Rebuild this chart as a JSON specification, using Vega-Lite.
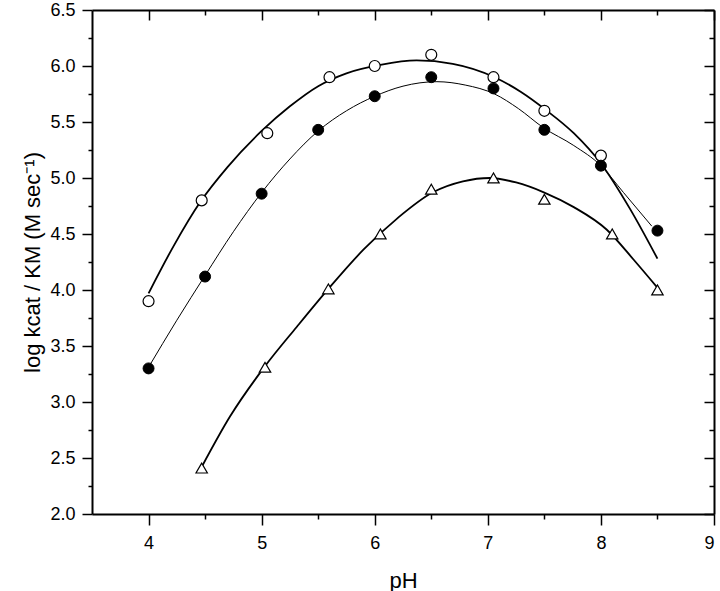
{
  "$schema": "https://vega.github.io/schema/vega-lite/v6.json",
  "autosize": "none",
  "width": 622,
  "height": 504,
  "padding": {"left": 92, "top": 10, "right": 6, "bottom": 77},
  "background": "white",
  "config": {
    "view": {"stroke": null},
    "font": "Liberation Sans",
    "axis": {"grid": false, "domainColor": "black", "domainWidth": 2, "tickColor": "black", "tickWidth": 1.5, "labelColor": "black", "titleColor": "black", "labelFont": "Liberation Sans", "titleFont": "Liberation Sans", "labelFontSize": 18, "titleFontSize": 22, "titleFontWeight": "normal"}
  },
  "datasets": {
    "pts": [
      {"series": "open", "pH": 4.0, "logk": 3.9},
      {"series": "open", "pH": 4.47, "logk": 4.8},
      {"series": "open", "pH": 5.05, "logk": 5.4},
      {"series": "open", "pH": 5.6, "logk": 5.9},
      {"series": "open", "pH": 6.0, "logk": 6.0},
      {"series": "open", "pH": 6.5, "logk": 6.1},
      {"series": "open", "pH": 7.05, "logk": 5.9},
      {"series": "open", "pH": 7.5, "logk": 5.6},
      {"series": "open", "pH": 8.0, "logk": 5.2},
      {"series": "filled", "pH": 4.0, "logk": 3.3},
      {"series": "filled", "pH": 4.5, "logk": 4.12},
      {"series": "filled", "pH": 5.0, "logk": 4.86},
      {"series": "filled", "pH": 5.5, "logk": 5.43},
      {"series": "filled", "pH": 6.0, "logk": 5.73},
      {"series": "filled", "pH": 6.5, "logk": 5.9},
      {"series": "filled", "pH": 7.05, "logk": 5.8},
      {"series": "filled", "pH": 7.5, "logk": 5.43},
      {"series": "filled", "pH": 8.0, "logk": 5.11},
      {"series": "filled", "pH": 8.5, "logk": 4.53},
      {"series": "triangle", "pH": 4.47, "logk": 2.41},
      {"series": "triangle", "pH": 5.03, "logk": 3.31},
      {"series": "triangle", "pH": 5.59, "logk": 4.01},
      {"series": "triangle", "pH": 6.05, "logk": 4.5},
      {"series": "triangle", "pH": 6.5, "logk": 4.9},
      {"series": "triangle", "pH": 7.05, "logk": 5.0},
      {"series": "triangle", "pH": 7.5, "logk": 4.81},
      {"series": "triangle", "pH": 8.1, "logk": 4.5},
      {"series": "triangle", "pH": 8.5, "logk": 4.0}
    ],
    "curves": [
      {"series": "open", "pH": 4.0, "logk": 3.97},
      {"series": "open", "pH": 4.22, "logk": 4.39},
      {"series": "open", "pH": 4.46, "logk": 4.79},
      {"series": "open", "pH": 4.7, "logk": 5.1},
      {"series": "open", "pH": 5.0, "logk": 5.42},
      {"series": "open", "pH": 5.25, "logk": 5.64},
      {"series": "open", "pH": 5.5, "logk": 5.82},
      {"series": "open", "pH": 5.75, "logk": 5.935},
      {"series": "open", "pH": 6.05, "logk": 6.01},
      {"series": "open", "pH": 6.37, "logk": 6.05},
      {"series": "open", "pH": 6.69, "logk": 6.02},
      {"series": "open", "pH": 7.06, "logk": 5.9},
      {"series": "open", "pH": 7.29, "logk": 5.77},
      {"series": "open", "pH": 7.51, "logk": 5.61},
      {"series": "open", "pH": 7.76, "logk": 5.4},
      {"series": "open", "pH": 8.0, "logk": 5.13},
      {"series": "open", "pH": 8.26, "logk": 4.72},
      {"series": "open", "pH": 8.5, "logk": 4.28},
      {"series": "filled", "pH": 4.0, "logk": 3.31},
      {"series": "filled", "pH": 4.25, "logk": 3.73},
      {"series": "filled", "pH": 4.5, "logk": 4.13},
      {"series": "filled", "pH": 4.75, "logk": 4.52},
      {"series": "filled", "pH": 5.0, "logk": 4.87},
      {"series": "filled", "pH": 5.25, "logk": 5.17},
      {"series": "filled", "pH": 5.5, "logk": 5.42},
      {"series": "filled", "pH": 5.75, "logk": 5.6},
      {"series": "filled", "pH": 6.0, "logk": 5.73},
      {"series": "filled", "pH": 6.25, "logk": 5.82},
      {"series": "filled", "pH": 6.55, "logk": 5.86},
      {"series": "filled", "pH": 6.8, "logk": 5.83},
      {"series": "filled", "pH": 7.06, "logk": 5.75},
      {"series": "filled", "pH": 7.27, "logk": 5.62},
      {"series": "filled", "pH": 7.49, "logk": 5.45},
      {"series": "filled", "pH": 7.76, "logk": 5.29},
      {"series": "filled", "pH": 8.0, "logk": 5.11},
      {"series": "filled", "pH": 8.2, "logk": 4.87},
      {"series": "filled", "pH": 8.45, "logk": 4.57},
      {"series": "triangle", "pH": 4.47, "logk": 2.42},
      {"series": "triangle", "pH": 4.72, "logk": 2.87},
      {"series": "triangle", "pH": 5.03, "logk": 3.32},
      {"series": "triangle", "pH": 5.31, "logk": 3.67},
      {"series": "triangle", "pH": 5.59, "logk": 4.01},
      {"series": "triangle", "pH": 5.9, "logk": 4.36},
      {"series": "triangle", "pH": 6.2, "logk": 4.64},
      {"series": "triangle", "pH": 6.51, "logk": 4.87},
      {"series": "triangle", "pH": 6.78, "logk": 4.97},
      {"series": "triangle", "pH": 7.02, "logk": 5.0},
      {"series": "triangle", "pH": 7.25, "logk": 4.96},
      {"series": "triangle", "pH": 7.5, "logk": 4.87},
      {"series": "triangle", "pH": 7.76, "logk": 4.74},
      {"series": "triangle", "pH": 8.05, "logk": 4.54},
      {"series": "triangle", "pH": 8.29, "logk": 4.27},
      {"series": "triangle", "pH": 8.5, "logk": 4.02}
    ]
  },
  "layer": [
    {
      "data": {"name": "curves"},
      "transform": [{"filter": "datum.series !== 'filled'"}],
      "mark": {"type": "line", "interpolate": "monotone", "color": "black", "strokeWidth": 1.8},
      "encoding": {
        "x": {"field": "pH", "type": "quantitative", "scale": {"domain": [3.5, 9], "nice": false, "zero": false},
          "axis": {"orient": "bottom", "title": "pH", "values": [4, 4.5, 5, 5.5, 6, 6.5, 7, 7.5, 8, 8.5, 9],
            "labelExpr": "datum.value % 1 === 0 ? format(datum.value, 'd') : ''",
            "tickSize": {"condition": {"test": "datum.value % 1 === 0", "value": 11}, "value": 5},
            "labelPadding": 9, "titlePadding": 18}},
        "y": {"field": "logk", "type": "quantitative", "scale": {"domain": [2, 6.5], "nice": false, "zero": false},
          "axis": {"orient": "left", "title": "log kcat / KM (M sec⁻¹)", "values": [2, 2.25, 2.5, 2.75, 3, 3.25, 3.5, 3.75, 4, 4.25, 4.5, 4.75, 5, 5.25, 5.5, 5.75, 6, 6.25, 6.5],
            "labelExpr": "(datum.value * 2) % 1 === 0 ? format(datum.value, '.1f') : ''",
            "tickSize": {"condition": {"test": "(datum.value * 2) % 1 === 0", "value": 10}, "value": 4},
            "labelPadding": 7, "titlePadding": 5}},
        "detail": {"field": "series"}
      }
    },
    {
      "data": {"name": "curves"},
      "transform": [{"filter": "datum.series === 'filled'"}],
      "mark": {"type": "line", "interpolate": "monotone", "color": "black", "strokeWidth": 1},
      "encoding": {
        "x": {"field": "pH", "type": "quantitative",
          "axis": {"orient": "top", "title": null, "labels": false, "values": [4, 4.5, 5, 5.5, 6, 6.5, 7, 7.5, 8, 8.5, 9],
            "tickSize": {"condition": {"test": "datum.value % 1 === 0", "value": -10}, "value": -5}}},
        "y": {"field": "logk", "type": "quantitative",
          "axis": {"orient": "right", "title": null, "labels": false, "values": [2, 2.25, 2.5, 2.75, 3, 3.25, 3.5, 3.75, 4, 4.25, 4.5, 4.75, 5, 5.25, 5.5, 5.75, 6, 6.25, 6.5],
            "tickSize": {"condition": {"test": "(datum.value * 2) % 1 === 0", "value": -10}, "value": -5}}}
      }
    },
    {
      "data": {"name": "pts"},
      "transform": [{"filter": "datum.series === 'open'"}],
      "mark": {"type": "point", "shape": "circle", "filled": true, "fill": "white", "stroke": "black", "strokeWidth": 1.2, "size": 120, "opacity": 1},
      "encoding": {
        "x": {"field": "pH", "type": "quantitative", "axis": null},
        "y": {"field": "logk", "type": "quantitative", "axis": null}
      }
    },
    {
      "data": {"name": "pts"},
      "transform": [{"filter": "datum.series === 'filled'"}],
      "mark": {"type": "point", "shape": "circle", "filled": true, "fill": "black", "stroke": "black", "strokeWidth": 1, "size": 120, "opacity": 1},
      "encoding": {
        "x": {"field": "pH", "type": "quantitative", "axis": null},
        "y": {"field": "logk", "type": "quantitative", "axis": null}
      }
    },
    {
      "data": {"name": "pts"},
      "transform": [{"filter": "datum.series === 'triangle'"}],
      "mark": {"type": "point", "shape": "triangle-up", "filled": true, "fill": "white", "stroke": "black", "strokeWidth": 1.2, "size": 130, "opacity": 1},
      "encoding": {
        "x": {"field": "pH", "type": "quantitative", "axis": null},
        "y": {"field": "logk", "type": "quantitative", "axis": null}
      }
    }
  ],
  "resolve": {"axis": {"x": "independent", "y": "independent"}}
}
